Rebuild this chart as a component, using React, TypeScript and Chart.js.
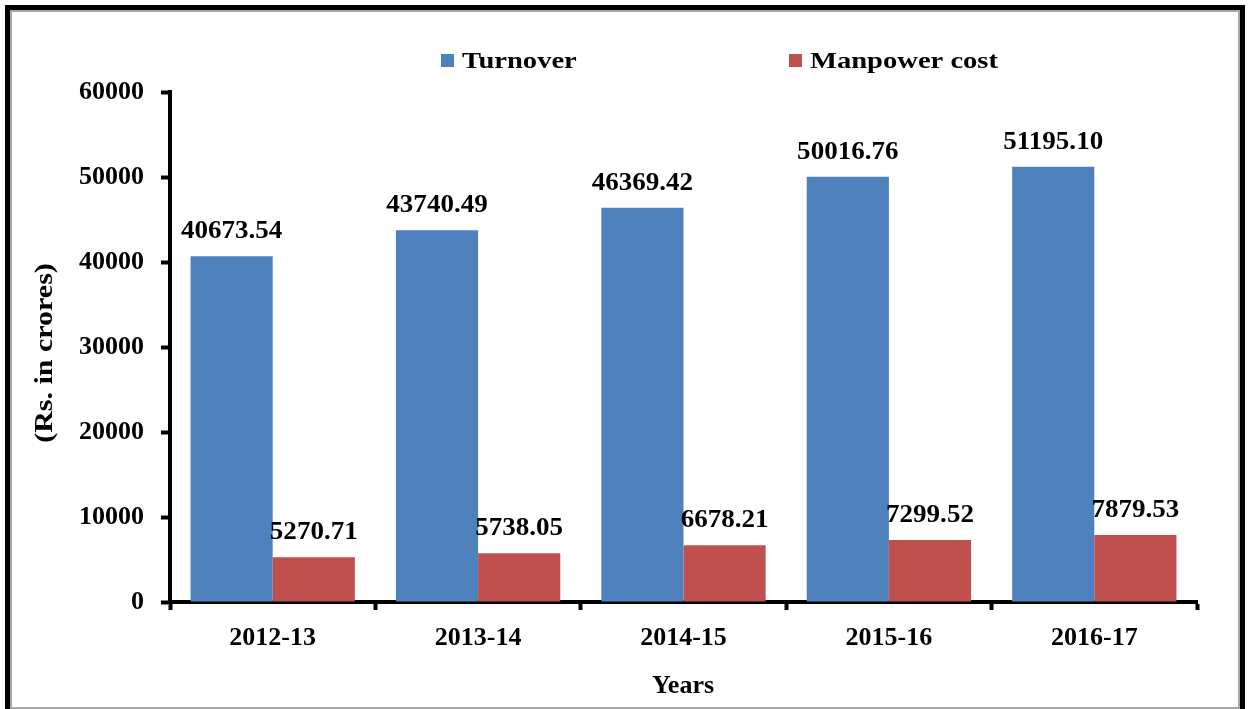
import React, { useEffect, useRef } from "react";
import { Chart, registerables } from "chart.js";

Chart.register(...registerables);

const categories = ["2012-13", "2013-14", "2014-15", "2015-16", "2016-17"];
const turnover = [40673.54, 43740.49, 46369.42, 50016.76, 51195.1];
const manpower = [5270.71, 5738.05, 6678.21, 7299.52, 7879.53];
const turnoverLabels = ["40673.54", "43740.49", "46369.42", "50016.76", "51195.10"];
const manpowerLabels = ["5270.71", "5738.05", "6678.21", "7299.52", "7879.53"];
const seriesNames = ["Turnover", "Manpower cost"];
const colors = ["#4F81BD", "#C0504D"];
const yTitle = "(Rs. in crores)";
const xTitle = "Years";

const FONT = "'Liberation Serif', 'Times New Roman', serif";

function stretchedText(ctx: CanvasRenderingContext2D, text: string, x: number, y: number, sx: number) {
  ctx.save();
  ctx.translate(x, y);
  ctx.scale(sx, 1);
  ctx.fillText(text, 0, 0);
  ctx.restore();
}

const decor = {
  id: "decor",
  beforeDraw(chart: any) {
    const ctx = chart.ctx;
    ctx.save();
    ctx.fillStyle = "#ffffff";
    ctx.fillRect(0, 0, chart.width, chart.height);
    ctx.restore();
  },
  afterDraw(chart: any) {
    const ctx = chart.ctx;
    ctx.save();
    // frame
    ctx.strokeStyle = "#000";
    ctx.lineWidth = 5;
    ctx.strokeRect(7.5, 7.5, 1235, 705);
    ctx.strokeStyle = "#a6a6a6";
    ctx.lineWidth = 2;
    ctx.strokeRect(11, 11, 1228, 697);

    // legend
    ctx.font = `bold 24px ${FONT}`;
    ctx.textBaseline = "alphabetic";
    ctx.textAlign = "left";
    const legendPos = [441, 789];
    seriesNames.forEach((n, i) => {
      ctx.fillStyle = colors[i];
      ctx.fillRect(legendPos[i], 54, 13, 13);
      ctx.fillStyle = "#000";
      stretchedText(ctx, n, legendPos[i] + 21, 68, 1.19);
    });

    // data labels
    ctx.font = `bold 26px ${FONT}`;
    ctx.textAlign = "center";
    ctx.fillStyle = "#000";
    const labelSets = [turnoverLabels, manpowerLabels];
    chart.data.datasets.forEach((ds: any, di: number) => {
      const meta = chart.getDatasetMeta(di);
      meta.data.forEach((bar: any, i: number) => {
        stretchedText(ctx, labelSets[di][i], bar.x, bar.y - 18, 1.04);
      });
    });

    // axis titles
    ctx.textAlign = "center";
    ctx.textBaseline = "middle";
    ctx.font = `bold 25px ${FONT}`;
    stretchedText(ctx, xTitle, 683, 687, 1.04);
    ctx.save();
    ctx.translate(46, 353);
    ctx.rotate(-Math.PI / 2);
    ctx.font = `bold 25px ${FONT}`;
    stretchedText(ctx, yTitle, 0, 0, 1.2);
    ctx.restore();
    ctx.restore();
  },
};

export default function App() {
  const ref = useRef<HTMLCanvasElement | null>(null);
  useEffect(() => {
    document.body.style.margin = "0";
    const chart = new Chart(ref.current as HTMLCanvasElement, {
      type: "bar",
      data: {
        labels: categories,
        datasets: [
          { label: seriesNames[0], data: turnover, backgroundColor: colors[0], categoryPercentage: 0.8, barPercentage: 1.0 },
          { label: seriesNames[1], data: manpower, backgroundColor: colors[1], categoryPercentage: 0.8, barPercentage: 1.0 },
        ],
      },
      options: {
        animation: false,
        responsive: false,
        devicePixelRatio: 1,
        layout: { padding: { top: 92, right: 58, left: 0, bottom: 0 } },
        plugins: { legend: { display: false }, tooltip: { enabled: false } },
        scales: {
          x: {
            grid: { offset: true, drawOnChartArea: false, tickLength: 8, tickWidth: 4, tickColor: "#000" },
            border: { color: "#000", width: 4 },
            ticks: { color: "#000", font: { family: FONT, size: 26, weight: "bold" }, padding: 13 },
            afterFit: (s: any) => { s.height = 107; },
          },
          y: {
            min: 0,
            max: 60000,
            grid: { drawOnChartArea: false, tickLength: 9, tickWidth: 4, tickColor: "#000" },
            border: { color: "#000", width: 4 },
            ticks: {
              stepSize: 10000,
              color: "#000",
              font: { family: FONT, size: 26, weight: "bold" },
              padding: 17,
              callback: (v: any) => String(v),
            },
            afterFit: (s: any) => { s.width = 170; },
          },
        },
      },
      plugins: [decor],
    });
    return () => chart.destroy();
  }, []);
  return <canvas ref={ref} width={1255} height={709} style={{ display: "block" }} />;
}
